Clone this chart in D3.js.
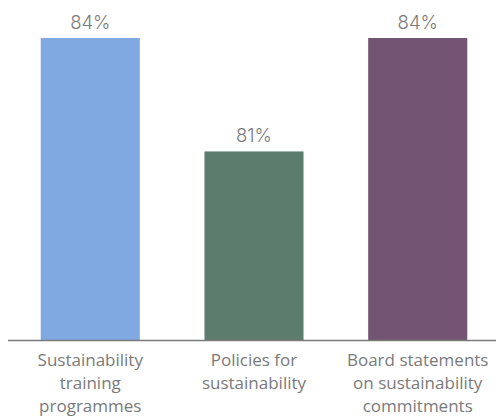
<!DOCTYPE html>
<html><head><meta charset="utf-8">
<script src="https://cdn.jsdelivr.net/npm/d3@7"></script>
<style>body{margin:0;background:#fff}svg{display:block}</style>
</head><body>
<script>
const categories = [["Sustainability","training","programmes"],["Policies for","sustainability"],["Board statements","on sustainability","commitments"]];
const values = [84, 81, 84];
const valueLabels = ["84%", "81%", "84%"];
const colors = ["#7FA9E0", "#5C7D6E", "#735472"];

const W = 496, H = 416;
const svg = d3.select("body").append("svg").attr("width", W).attr("height", H);
const ids = d3.range(values.length);
const x = d3.scaleBand().domain(ids).range([8, 500]).paddingInner(0.395).paddingOuter(0.2);
const y = d3.scaleLinear().domain([76, 84]).range([340.5, 38]);

svg.selectAll("rect.bar").data(ids).join("rect")
  .attr("x", i => x(i)).attr("width", x.bandwidth())
  .attr("y", i => y(values[i])).attr("height", i => y.range()[0] - y(values[i]))
  .attr("fill", i => colors[i]);

svg.selectAll("text.val").data(ids).join("text")
  .attr("x", i => x(i) + x.bandwidth()/2).attr("y", i => y(values[i]) - 9)
  .attr("text-anchor", "middle").attr("font-family", "Inter, 'Open Sans', sans-serif")
  .attr("font-weight", 300)
  .attr("font-size", 18.5).attr("fill", "#7a7a7a").text(i => valueLabels[i]);

const ax = svg.append("g").attr("transform", `translate(0,${y.range()[0]})`)
  .call(d3.axisBottom(x).tickSize(0).tickFormat(""));
ax.select(".domain").attr("stroke", "#7a7a7a").attr("stroke-width", 1.5).attr("d", "M8,0H496");

const lab = svg.selectAll("text.cat").data(ids).join("text")
  .attr("text-anchor", "middle").attr("font-family", "'Open Sans', sans-serif")
  .attr("font-size", 17).attr("fill", "#7a7a7a");
lab.each(function(i){
  const t = d3.select(this);
  categories[i].forEach((line, k) => {
    t.append("tspan").attr("x", x(i) + x.bandwidth()/2).attr("y", 366 + k*23).text(line);
  });
});
</script>
</body></html>
